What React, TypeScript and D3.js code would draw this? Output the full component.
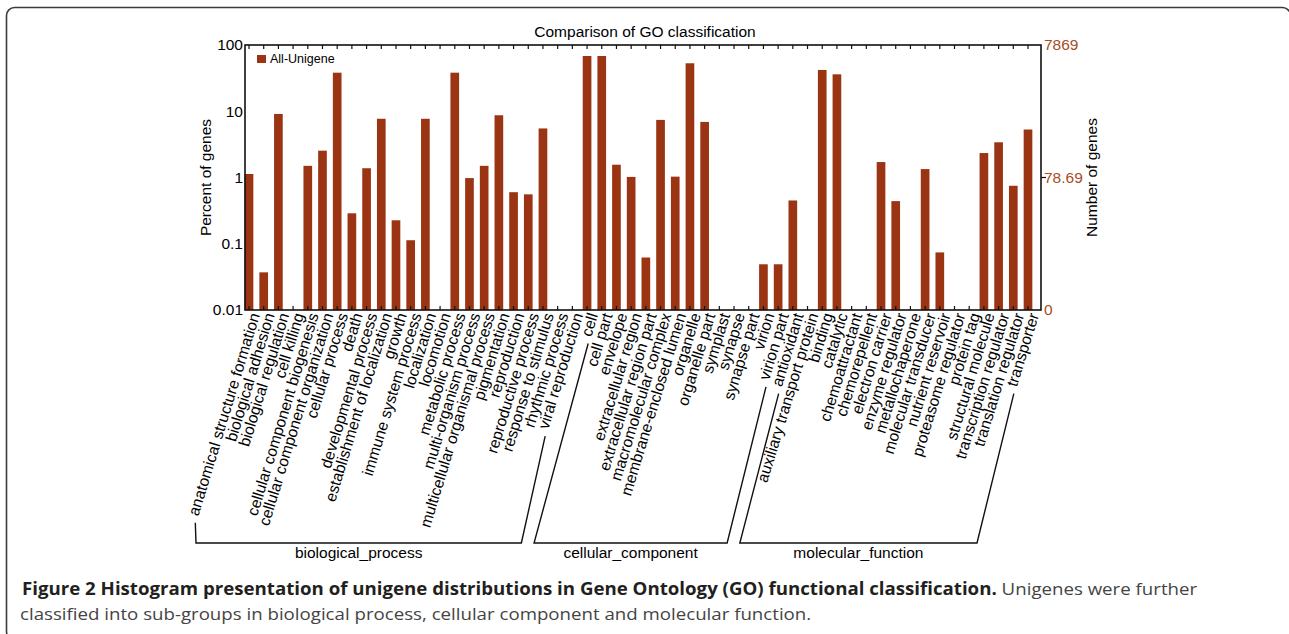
import React, { useEffect, useRef } from "react";
import * as d3 from "d3";

// GO terms, grouped by ontology
const bpTerms = [
  "anatomical structure formation", "biological adhesion", "biological regulation", "cell killing",
  "cellular component biogenesis", "cellular component organization", "cellular process", "death",
  "developmental process", "establishment of localization", "growth", "immune system process",
  "localization", "locomotion", "metabolic process", "multi-organism process",
  "multicellular organismal process", "pigmentation", "reproduction", "reproductive process",
  "response to stimulus", "rhythmic process", "viral reproduction",
];
const ccTerms = [
  "cell", "cell part", "envelope", "extracellular region", "extracellular region part",
  "macromolecular complex", "membrane-enclosed lumen", "organelle", "organelle part", "symplast",
  "synapse", "synapse part", "virion", "virion part",
];
const mfTerms = [
  "antioxidant", "auxiliary transport protein", "binding", "catalytic", "chemoattractant",
  "chemorepellent", "electron carrier", "enzyme regulator", "metallochaperone", "molecular transducer",
  "nutrient reservoir", "proteasome regulator", "protein tag", "structural molecule",
  "transcription regulator", "translation regulator", "transporter",
];

// percent of genes (0 = no bar)
const bpPercent = [1.13, 0.037, 9.1, 0, 1.5, 2.54, 38.2, 0.288, 1.38, 7.7, 0.226, 0.113, 7.7, 0, 38.2, 0.98, 1.5, 8.7, 0.6, 0.557, 5.5, 0, 0];
const ccPercent = [68.2, 68.2, 1.56, 1.02, 0.062, 7.4, 1.03, 53, 6.9, 0, 0, 0, 0.049, 0.049];
const mfPercent = [0.45, 0, 42, 36.1, 0, 0, 1.71, 0.44, 0, 1.34, 0.074, 0, 0, 2.34, 3.4, 0.75, 5.3];

const groupNames = ["biological_process", "cellular_component", "molecular_function"];
const leftTicks = [100, 10, 1, 0.1, 0.01];
const leftTickLabels = ["100", "10", "1", "0.1", "0.01"];
const rightTicks = [100, 1, 0.01];
const rightTickLabels = ["7869", "78.69", "0"];

const captionBold = "Figure 2 Histogram presentation of unigene distributions in Gene Ontology (GO) functional classification.";
const captionRest = " Unigenes were further";
const captionLine2 = "classified into sub-groups in biological process, cellular component and molecular function.";

const App = () => {
  const svgRef = useRef<SVGSVGElement | null>(null);

  useEffect(() => {
    const width = 1289;
    const height = 634;
    const plotLeft = 245;
    const plotRight = 1041;
    const plotTop = 45;
    const plotBottom = 310;
    const barColor = "#9a3412";
    const rightColor = "#a84c24";
    const font = "'Liberation Sans', Arial, sans-serif";

    const groups = [bpTerms, ccTerms, mfTerms];
    const terms = [...bpTerms, ...ccTerms, ...mfTerms];
    const values = [...bpPercent, ...ccPercent, ...mfPercent];
    const data = terms.map((t, i) => ({ term: t, value: values[i] }));

    const svg = d3.select(svgRef.current).attr("width", width).attr("height", height);
    svg.selectAll("*").remove();

    // frame
    svg.append("rect")
      .attr("x", 6.5).attr("y", 7.5)
      .attr("width", 1284).attr("height", 632)
      .attr("rx", 8)
      .attr("fill", "none").attr("stroke", "#3a3a3a").attr("stroke-width", 1.6);

    const x = d3.scalePoint<string>().domain(terms).range([249, 1028]);
    const y = d3.scaleLog().domain([0.01, 100]).range([plotBottom, plotTop]);
    const barW = x.step() * 0.59;

    // title
    svg.append("text")
      .attr("x", 645).attr("y", 37)
      .attr("text-anchor", "middle")
      .attr("font-family", font).attr("font-size", 15.5)
      .text("Comparison of GO classification");

    // bars
    svg.append("g")
      .selectAll("rect")
      .data(data.filter((d) => d.value > 0))
      .join("rect")
      .attr("x", (d) => x(d.term)! - barW / 2)
      .attr("y", (d) => y(d.value))
      .attr("width", barW)
      .attr("height", (d) => y(0.01) - y(d.value))
      .attr("fill", barColor);

    // ticks top & bottom (inward)
    const tickG = svg.append("g").attr("stroke", "#111").attr("stroke-width", 1.2);
    terms.forEach((t) => {
      tickG.append("line").attr("x1", x(t)!).attr("x2", x(t)!).attr("y1", plotTop).attr("y2", plotTop + 4);
      tickG.append("line").attr("x1", x(t)!).attr("x2", x(t)!).attr("y1", plotBottom).attr("y2", plotBottom - 4);
    });

    // plot box
    svg.append("rect")
      .attr("x", plotLeft).attr("y", plotTop)
      .attr("width", plotRight - plotLeft).attr("height", plotBottom - plotTop)
      .attr("fill", "none").attr("stroke", "#111").attr("stroke-width", 1.6);

    // left axis labels
    svg.append("g")
      .selectAll("text")
      .data(leftTicks)
      .join("text")
      .attr("x", plotLeft - 2)
      .attr("y", (d) => y(d))
      .attr("dy", "0.35em")
      .attr("text-anchor", "end")
      .attr("font-family", font).attr("font-size", 15.5)
      .text((_, i) => leftTickLabels[i]);

    svg.append("text")
      .attr("transform", `translate(211,${y(1)}) rotate(-90)`)
      .attr("text-anchor", "middle")
      .attr("font-family", font).attr("font-size", 15.5)
      .text("Percent of genes");

    // right axis
    svg.append("line")
      .attr("x1", plotRight).attr("x2", plotRight + 5)
      .attr("y1", y(1)).attr("y2", y(1))
      .attr("stroke", "#111").attr("stroke-width", 1.2);
    svg.append("g")
      .selectAll("text")
      .data(rightTicks)
      .join("text")
      .attr("x", plotRight + 3)
      .attr("y", (d) => y(d))
      .attr("dy", "0.35em")
      .attr("fill", rightColor)
      .attr("font-family", font).attr("font-size", 15.5)
      .text((_, i) => rightTickLabels[i]);

    svg.append("text")
      .attr("transform", `translate(1097,${y(1)}) rotate(-90)`)
      .attr("text-anchor", "middle")
      .attr("font-family", font).attr("font-size", 15.5)
      .text("Number of genes");

    // legend
    svg.append("rect").attr("x", 257).attr("y", 55).attr("width", 9).attr("height", 8).attr("fill", barColor);
    svg.append("text")
      .attr("x", 270).attr("y", 62.5)
      .attr("font-family", font).attr("font-size", 12.5)
      .text("All-Unigene");

    // category labels
    const angle = -73;
    const rad = (angle * Math.PI) / 180;
    const dir = [Math.cos(rad), Math.sin(rad)];
    const labelDx = 11;
    const labelY = 315;
    const labels = svg.append("g")
      .selectAll("text")
      .data(terms)
      .join("text")
      .attr("transform", (d) => `translate(${x(d)! + labelDx},${labelY}) rotate(${angle})`)
      .attr("text-anchor", "end")
      .attr("font-family", font).attr("font-size", 15.7)
      .text((d) => d);

    const lengths = new Map<string, number>();
    labels.each(function (d) {
      lengths.set(d, (this as SVGTextElement).getComputedTextLength());
    });

    const labelStart = (t: string) => {
      const L = lengths.get(t) ?? 0;
      return [x(t)! + labelDx - dir[0] * L - 3, labelY - dir[1] * L + 6];
    };

    // group brackets
    const bracketY = 543;
    const br = svg.append("g").attr("fill", "none").attr("stroke", "#111").attr("stroke-width", 1.4);
    groups.forEach((g, gi) => {
      const first = g[0];
      const last = g[g.length - 1];
      const a = labelStart(first);
      const b = labelStart(last);
      const x0 = x(first)! - 53;
      const x1 = x(last)! - 51;
      br.append("path").attr("d", `M${a[0]},${a[1]}L${x0},${bracketY}H${x1}L${b[0]},${b[1]}`);
      svg.append("text")
        .attr("x", (x0 + x1) / 2).attr("y", 558)
        .attr("text-anchor", "middle")
        .attr("font-family", font).attr("font-size", 15.5)
        .text(groupNames[gi]);
    });

    // caption
    const capFont = "'Open Sans', 'Noto Sans', sans-serif";
    const cap1 = svg.append("text")
      .attr("x", 0).attr("y", 0)
      .attr("font-family", capFont).attr("font-size", 17);
    cap1.append("tspan").attr("font-weight", "bold").attr("fill", "#231f20").text(captionBold);
    cap1.append("tspan").attr("fill", "#444").text(captionRest);
    const len1 = (cap1.node() as SVGTextElement).getComputedTextLength();
    const s = 1176 / len1;
    cap1.attr("transform", `translate(22,595) scale(${s},1)`);

    svg.append("text")
      .attr("transform", `translate(20,620) scale(${s},1)`)
      .attr("font-family", capFont).attr("font-size", 17)
      .attr("fill", "#444")
      .text(captionLine2);
  }, []);

  return (
    <svg
      ref={svgRef}
      style={{ position: "absolute", left: 0, top: 0, display: "block", background: "#fff" }}
    />
  );
};

export default App;
